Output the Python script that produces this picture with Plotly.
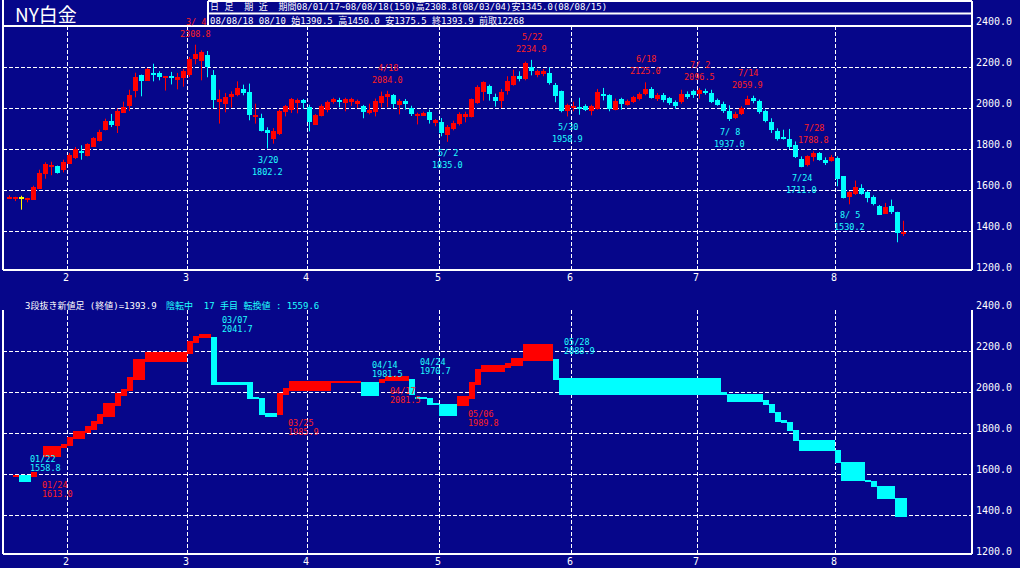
import plotly.graph_objects as go

# ---------------- data ----------------
title_text = "NY白金"
header_row1 = "日 足  期 近  期間08/01/17~08/08/18(150)高2308.8(08/03/04)安1345.0(08/08/15)"
header_row2 = "08/08/18 08/10 始1390.5 高1450.0 安1375.5 終1393.9 前取12268"
lower_title = "3段抜き新値足 (終値)=1393.9"
lower_status = "陰転中  17 手目 転換値 : 1559.6"

opens = [1563, 1557.7, 1561, 1549.6, 1553, 1605, 1680, 1716, 1719, 1696,
         1729, 1758, 1792, 1764, 1811, 1837, 1891, 1938, 1911, 1976,
         2011, 2081, 2163, 2133, 2172, 2169, 2145, 2152, 2135, 2145,
         2159, 2237, 2228, 2260, 2163, 2028, 2018, 2052, 2062, 2093,
         2080, 1963, 1953, 1894, 1850, 1875, 1982, 1992, 2024, 2037,
         2007, 1919, 1959, 1992, 2028, 2041, 2023, 2028, 2024, 2011,
         1976, 1979, 2024, 2052, 2065, 2013, 2032, 2000, 1963, 1963,
         1982, 1925, 1933, 1870, 1899, 1924, 1958, 1958, 2023, 2080,
         2109, 2055, 2033, 2085, 2114, 2158, 2143, 2198, 2161, 2164,
         2169, 2114, 2081, 1987, 2003, 2007, 2010, 1987, 1995, 2070,
         2063, 1992, 2044, 2016, 2029, 2046, 2068, 2094, 2046, 2062,
         2047, 2028, 2028, 2067, 2081, 2068, 2085, 2073, 2037, 2021,
         1987, 1951, 1969, 2016, 2050, 2032, 1987, 1933, 1889, 1857,
         1849, 1820, 1751, 1720, 1759, 1780, 1748, 1740, 1758, 1668,
         1566, 1580, 1610, 1589, 1566, 1524, 1483, 1524, 1494, 1390.5]
highs = [1574, 1567, 1572, 1562, 1621, 1699, 1735, 1738, 1719, 1748,
         1780, 1810, 1818, 1828, 1858, 1894, 1948, 1971, 1997, 2031,
         2089, 2172, 2163, 2195, 2216, 2179, 2156, 2176, 2171, 2190,
         2249, 2308.8, 2281, 2278, 2185, 2089, 2073, 2081, 2130, 2114,
         2119, 2021, 1972, 1906, 1902, 1992, 2015, 2049, 2046, 2044,
         2016, 1970, 2018, 2036, 2050, 2050, 2050, 2050, 2041, 2015,
         2021, 2046, 2080, 2084.0, 2068, 2044, 2044, 2011, 1977, 1982,
         1992, 1946, 1951, 1917, 1938, 1979, 1982, 2046, 2111, 2130,
         2114, 2070, 2093, 2155, 2187, 2179, 2226, 2234.9, 2187, 2190,
         2198, 2122, 2085, 2021, 2031, 2050, 2018, 2016, 2093, 2098,
         2067, 2046, 2050, 2041, 2059, 2076, 2125.0, 2102, 2073, 2073,
         2054, 2037, 2089, 2081, 2089, 2096.5, 2094, 2089, 2046, 2031,
         2013, 1982, 2008, 2059.9, 2060, 2041, 1992, 1950, 1901, 1894,
         1898, 1837, 1764, 1769, 1788.8, 1785, 1759, 1771, 1764, 1668,
         1595, 1646, 1628, 1595, 1574, 1527, 1537, 1553, 1494, 1450.0]
lows = [1556, 1546, 1504, 1540, 1553, 1605, 1655, 1672, 1680, 1686,
        1729, 1751, 1748, 1764, 1811, 1837, 1891, 1907, 1878, 1976,
        1985, 2052, 2057, 2133, 2130, 2135, 2085, 2115, 2091, 2104,
        2151, 2213, 2135, 2150, 2000, 1924, 1979, 2002, 2057, 2062,
        1940, 1924, 1886, 1802.2, 1826, 1868, 1959, 1976, 1974, 1995,
        1886, 1917, 1959, 1979, 2021, 2003, 1984, 2010, 2000, 1950,
        1969, 1959, 2003, 2003, 2000, 1969, 1992, 1961, 1920, 1961,
        1924, 1911, 1862, 1835.0, 1891, 1915, 1930, 1954, 2020, 2036,
        2036, 2007, 2000, 2065, 2109, 2130, 2135, 2159, 2150, 2155,
        2114, 2028, 1979, 1958.9, 1984, 1967, 1985, 1964, 1992, 2037,
        1984, 1989, 1992, 2011, 2024, 2037, 2062, 2046, 2034, 2028,
        2015, 1995, 2021, 2044, 2049, 2046, 2065, 2024, 2011, 1976,
        1937.0, 1946, 1966, 2015, 2023, 1972, 1930, 1878, 1841, 1846,
        1800, 1756, 1711.0, 1715, 1740, 1743, 1722, 1738, 1618, 1559,
        1530.2, 1576, 1577, 1540, 1525, 1478, 1483, 1483, 1345.0, 1375.5]
closes = [1565, 1565.9, 1561, 1561, 1616, 1683, 1728, 1724, 1683, 1737,
          1772, 1802, 1784, 1823, 1852, 1885, 1938, 1919, 1987, 2006,
          2063, 2153, 2133, 2189, 2164, 2150, 2156, 2150, 2151, 2182,
          2239, 2265, 2273, 2198, 2037, 2042, 2055, 2070, 2099, 2072,
          1967, 1965, 1886, 1876, 1889, 1987, 2011, 2044, 2041, 2024,
          1933, 1967, 2011, 2031, 2046, 2028, 2046, 2046, 2033, 1979,
          1989, 2036, 2060, 2070, 2021, 2036, 2018, 1969, 1967, 1977,
          1940, 1940, 1878, 1909, 1928, 1972, 1972, 2042, 2104, 2125,
          2070, 2033, 2080, 2133, 2158, 2143, 2221, 2180, 2179, 2182,
          2124, 2060, 1984, 2016, 2006, 1993, 1992, 2010, 2080, 2057,
          1997, 2036, 2021, 2036, 2052, 2067, 2093, 2050, 2065, 2037,
          2024, 2011, 2070, 2055, 2065, 2089, 2073, 2028, 2016, 1984,
          1946, 1972, 2002, 2046, 2032, 1979, 1935, 1894, 1849, 1850,
          1810, 1759, 1712, 1764, 1780, 1745, 1732, 1763, 1654, 1563,
          1589, 1613, 1582, 1561, 1533, 1478, 1517, 1492, 1389, 1393.9]

# month starts (trading-day index) and their labels
month_start_idx = [10, 30, 50, 72, 94, 115, 138]
month_labels = ["2", "3", "4", "5", "6", "7", "8"]
price_ticks = [1200, 1400, 1600, 1800, 2000, 2200, 2400]

# labelled highs / lows in the upper panel (day index, date text)
high_marks = [(31, "3/ 4"), (63, "4/18"), (87, "5/22"), (106, "6/18"),
              (115, "7/ 2"), (123, "7/14"), (134, "7/28")]
low_marks = [(43, "3/20"), (73, "5/ 2"), (93, "5/30"), (120, "7/ 8"),
             (132, "7/24"), (140, "8/ 5")]

# three-line-break bricks: start day, end day, open, close
brick_start = [1, 2, 4, 6, 9, 10, 11, 13, 14, 15, 16, 18, 19, 20, 21, 23, 30, 31, 32, 34,
               35, 40, 41, 42, 43, 45, 46, 47, 54, 59, 62, 63, 67, 68, 70, 71, 72, 75, 77, 78,
               79, 83, 84, 86, 91, 92, 119, 120, 126, 127, 128, 129, 130, 131, 132, 138, 139,
               143, 144, 145, 148]
brick_end = [2, 4, 5, 9, 10, 11, 13, 14, 15, 16, 18, 19, 20, 21, 23, 30, 31, 32, 34, 35,
             40, 41, 42, 43, 45, 46, 47, 54, 59, 62, 63, 67, 68, 70, 71, 72, 75, 77, 78, 79,
             83, 84, 86, 91, 92, 119, 120, 126, 127, 128, 129, 130, 131, 132, 138, 139, 143,
             144, 145, 148, 150]
brick_open = [1585, 1593, 1585, 1681, 1727, 1735, 1771, 1798, 1816, 1844, 1880, 1933, 1982,
              2003, 2060, 2148, 2184, 2239, 2262, 2270, 2047, 2047, 1977, 1972, 1896, 1886,
              1984, 2006, 2044, 2050, 2042, 2055, 2065, 1976, 1972, 1946, 1943, 1933, 1967,
              2036, 2099, 2119, 2128, 2153, 2163, 2070, 2000, 1992, 1959, 1943, 1904, 1862,
              1855, 1816, 1767, 1719, 1660, 1572, 1567, 1543, 1485]
brick_close = [1597, 1559, 1608, 1738, 1748, 1779, 1811, 1832, 1860, 1894, 1946, 1997, 2015,
               2075, 2163, 2197, 2249, 2272, 2285, 2036, 2036, 1967, 1964, 1886, 1876, 1997,
               2021, 2055, 2055, 1979, 2065, 2080, 1984, 1966, 1938, 1935, 1881, 1982, 2050,
               2114, 2133, 2143, 2167, 2232, 2060, 1987, 1985, 1950, 1935, 1896, 1852, 1849,
               1808, 1759, 1711, 1652, 1564, 1559, 1535, 1476, 1389]

# reversal labels in lower panel: (brick number 0-based, date, value)
brick_labels = [(1, "01/22", "1558.8"), (2, "01/24", "1613.0"), (19, "03/07", "2041.7"),
                (25, "03/25", "1985.9"), (29, "04/14", "1981.5"), (30, "04/17", "2081.5"),
                (32, "04/24", "1970.7"), (37, "05/06", "1989.8"), (44, "05/28", "2088.9")]

# ---------------- style / layout ----------------
W, H = 1020, 568
ML, MR, MT, MB = 3, 48, 26, 12
PW, PH = W - ML - MR, H - MT - MB


def fx(px):
    return (px - ML) / PW


def fy(py):
    return (H - MB - py) / PH


BG = "#06068a"
RED, CYAN, YEL, WHITE = "#ff0000", "#00ffff", "#ffff00", "#ffffff"
LRED, LCYAN = "#ff2020", "#20ffff"
MONO = "DejaVu Sans Mono, Noto Sans CJK JP"
JP = "Noto Sans CJK JP"
MIN_BODY = 7.0

fig = go.Figure()

n = len(opens)
cols = []
for o, c in zip(opens, closes):
    cols.append(RED if c > o else (CYAN if c < o else YEL))

# wicks
for col in (RED, CYAN, YEL):
    xs, ys = [], []
    for i in range(n):
        if cols[i] == col:
            xs += [i, i, None]
            ys += [lows[i], highs[i], None]
    if xs:
        fig.add_trace(go.Scatter(x=xs, y=ys, mode="lines", line=dict(color=col, width=1),
                                 hoverinfo="skip", showlegend=False, xaxis="x", yaxis="y"))

# bodies
for col in (RED, CYAN, YEL):
    bx, bb, bh = [], [], []
    for i in range(n):
        if cols[i] != col:
            continue
        lo, hi = min(opens[i], closes[i]), max(opens[i], closes[i])
        if hi - lo < MIN_BODY:
            mid = (hi + lo) / 2
            lo, hi = mid - MIN_BODY / 2, mid + MIN_BODY / 2
        bx.append(i)
        bb.append(lo)
        bh.append(hi - lo)
    if bx:
        fig.add_trace(go.Bar(x=bx, y=bh, base=bb, width=5 / 6, marker=dict(color=col, line=dict(width=0)),
                             hoverinfo="skip", showlegend=False, xaxis="x", yaxis="y"))

# bricks
for col in (RED, CYAN):
    bx, bb, bh, bw = [], [], [], []
    for s, e, o, c in zip(brick_start, brick_end, brick_open, brick_close):
        bcol = RED if c > o else CYAN
        if bcol != col:
            continue
        bx.append((s + e) / 2 - 0.5)
        bw.append(e - s)
        bb.append(min(o, c))
        bh.append(abs(c - o))
    fig.add_trace(go.Bar(x=bx, y=bh, base=bb, width=bw, marker=dict(color=col, line=dict(width=0)),
                         hoverinfo="skip", showlegend=False, xaxis="x2", yaxis="y2"))

ann = []
# candle labels
for i, d in high_marks:
    ann.append(dict(x=i, y=highs[i], xref="x", yref="y", text=d, yshift=23))
    ann.append(dict(x=i, y=highs[i], xref="x", yref="y", text=f"{highs[i]:.1f}", yshift=11))
for a in ann:
    a.update(font=dict(family=MONO, size=8.5, color=LRED))
lows_ann = []
for i, d in low_marks:
    lows_ann.append(dict(x=i, y=lows[i], xref="x", yref="y", text=d, yshift=-11))
    lows_ann.append(dict(x=i, y=lows[i], xref="x", yref="y", text=f"{lows[i]:.1f}", yshift=-23))
for a in lows_ann:
    a.update(font=dict(family=MONO, size=8.5, color=LCYAN))
ann += lows_ann
for a in ann:
    a.update(showarrow=False, xanchor="center", yanchor="middle")

# brick labels
for k, d, v in brick_labels:
    o, c = brick_open[k], brick_close[k]
    x = brick_start[k] + 1
    if c < o:
        top = max(o, c)
        for t, sh in ((d, 16.5), (v, 7.5)):
            ann.append(dict(x=x, y=top, xref="x2", yref="y2", text=t, yshift=sh, showarrow=False,
                            xanchor="left", yanchor="middle", font=dict(family=MONO, size=8.5, color=LCYAN)))
    else:
        bot = min(o, c)
        for t, sh in ((d, -8), (v, -17)):
            ann.append(dict(x=x, y=bot, xref="x2", yref="y2", text=t, yshift=sh, showarrow=False,
                            xanchor="left", yanchor="middle", font=dict(family=MONO, size=8.5, color=LRED)))

# right axis labels
for yr in ("y", "y2"):
    for v in price_ticks:
        ann.append(dict(x=fx(974), xref="paper", y=v, yref=yr, text=f"{v:.1f}", showarrow=False,
                        xanchor="left", yanchor="middle", yshift=5,
                        font=dict(family="DejaVu Sans Mono", size=10, color=WHITE)))

# month labels
tick_pos = [m - 0.4 for m in month_start_idx]
for xr, yr in (("x", "y"), ("x2", "y2")):
    for t, lab in zip(tick_pos, month_labels):
        ann.append(dict(x=t - 0.2, xref=xr, y=price_ticks[0], yref=yr, text=lab, showarrow=False,
                        xanchor="center", yanchor="middle", yshift=-5,
                        font=dict(family="DejaVu Sans Mono", size=10, color=WHITE)))

# header texts
ann.append(dict(x=fx(13), y=fy(13.5), xref="paper", yref="paper", text=title_text, showarrow=False,
                xanchor="left", yanchor="middle", font=dict(family=JP, size=19, color=WHITE)))
ann.append(dict(x=fx(208), y=fy(6.5), xref="paper", yref="paper", text=header_row1, showarrow=False,
                xanchor="left", yanchor="middle", font=dict(family=MONO, size=9, color=WHITE)))
ann.append(dict(x=fx(208), y=fy(20.5), xref="paper", yref="paper", text=header_row2, showarrow=False,
                xanchor="left", yanchor="middle", font=dict(family=MONO, size=9, color=WHITE)))
ann.append(dict(x=fx(23), y=fy(305.5), xref="paper", yref="paper", text=lower_title, showarrow=False,
                xanchor="left", yanchor="middle", font=dict(family=MONO, size=9, color=WHITE)))
ann.append(dict(x=fx(164), y=fy(305.5), xref="paper", yref="paper", text=lower_status, showarrow=False,
                xanchor="left", yanchor="middle", font=dict(family=MONO, size=9, color=LCYAN)))

# frame lines
segs = [
    (3, 0, 3, 270), (972, 1, 972, 270), (3, 26, 972, 26), (3, 270, 972, 270),
    (3, 310, 3, 554), (972, 310, 972, 554), (3, 554, 972, 554),
    (208, 1, 208, 26), (208, 1, 972, 1), (208, 13.5, 972, 13.5),
]
shapes = [dict(type="line", xref="paper", yref="paper", x0=fx(a), y0=fy(b), x1=fx(c), y1=fy(d),
               line=dict(color=WHITE, width=2)) for a, b, c, d in segs]

xr = [-1.0833, 160.4167]
grid = dict(showgrid=True, gridcolor=WHITE, gridwidth=1, griddash="4px,2px")
xcommon = dict(range=xr, tickvals=tick_pos, showticklabels=False, zeroline=False, showline=False,
               ticks="", fixedrange=True, **grid)
ycommon = dict(range=[1200, 2400], tickvals=price_ticks[1:], showticklabels=False, zeroline=False,
               showline=False, ticks="", fixedrange=True, **grid)

fig.update_layout(
    width=W, height=H,
    margin=dict(l=ML, r=MR, t=MT, b=MB, pad=0),
    paper_bgcolor=BG, plot_bgcolor=BG,
    barmode="overlay", bargap=0,
    showlegend=False, hovermode=False,
    xaxis=dict(domain=[0, 1], anchor="y", **xcommon),
    yaxis=dict(domain=[fy(272), 1], anchor="x", **ycommon),
    xaxis2=dict(domain=[0, 1], anchor="y2", **xcommon),
    yaxis2=dict(domain=[0, fy(310)], anchor="x2", **ycommon),
    annotations=ann,
    shapes=shapes,
)

fig.write_html("out.html", config={"displayModeBar": False})

# remove the browser's default page margin so the figure sits at the window's corner
with open("out.html", encoding="utf-8") as fh:
    page = fh.read()
page = page.replace("<head>", "<head><style>html,body{margin:0;padding:0;background:%s;overflow:hidden;}</style>" % BG, 1)
with open("out.html", "w", encoding="utf-8") as fh:
    fh.write(page)
